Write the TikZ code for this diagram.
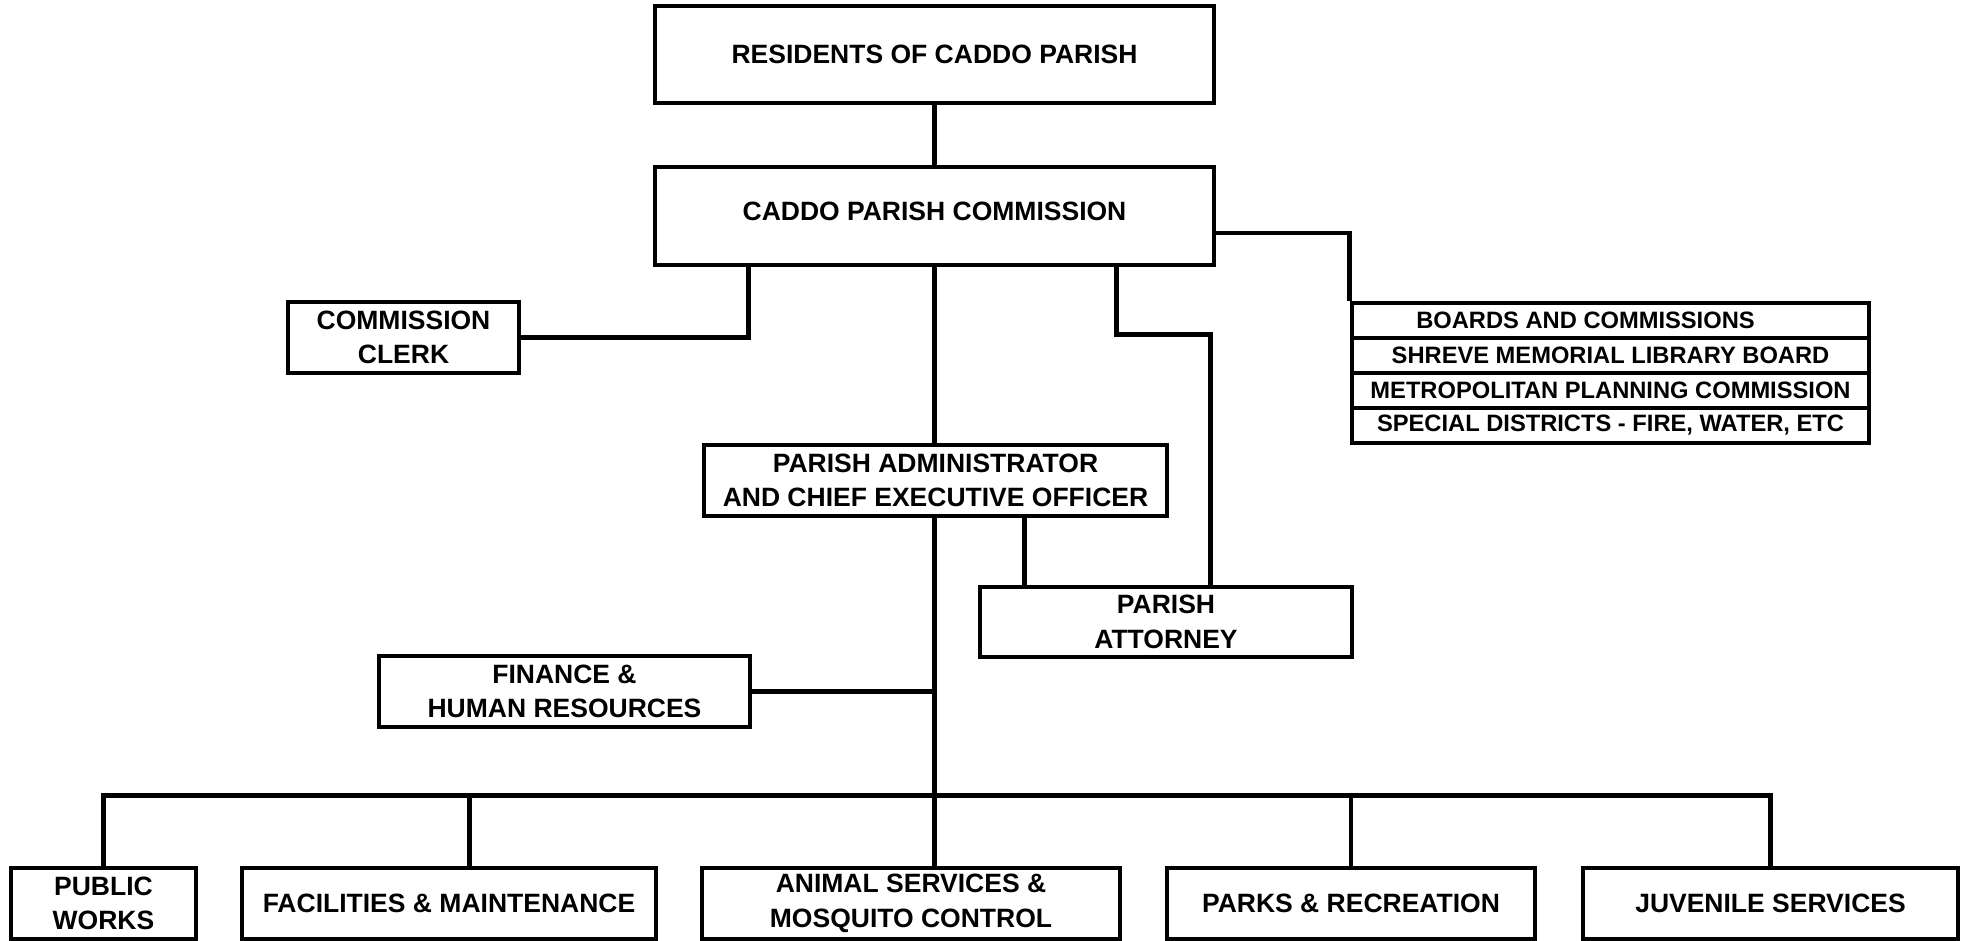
\documentclass[tikz,border=0pt]{standalone}
\usepackage{fontspec}
\setmainfont{Liberation Sans}
\usetikzlibrary{calc}
\begin{document}
\begin{tikzpicture}[x=1pt,y=-1pt,line width=4.6pt,
  box/.style={draw,line width=4.6pt,inner sep=0pt,align=center,
    font=\bfseries\fontsize{26.5}{34.5}\selectfont},
  row/.style={draw,line width=4.6pt,inner sep=0pt,minimum width=517pt,minimum height=35pt,
    font=\bfseries\fontsize{23.7}{28}\selectfont}]
\useasboundingbox (0,0) rectangle (1970,941);
% nodes
\node[box,minimum width=559pt,minimum height=97pt] (res) at (934.5,54.5) {RESIDENTS OF CADDO PARISH};
\node[box,minimum width=559pt,minimum height=98pt] (com) at (934.5,216) {\raisebox{10pt}{CADDO PARISH COMMISSION}};
\node[box,minimum width=231pt,minimum height=71pt] (clerk) at (403.5,337.5) {COMMISSION\\CLERK};
\node[row] (b1) at (1610.5,320.5) {\hspace{-50pt}BOARDS AND COMMISSIONS};
\node[row] (b2) at (1610.5,355.5) {SHREVE MEMORIAL LIBRARY BOARD};
\node[row] (b3) at (1610.5,390.5) {METROPOLITAN PLANNING COMMISSION};
\node[row] (b4) at (1610.5,425.5) {SPECIAL DISTRICTS - FIRE, WATER, ETC};
\node[box,minimum width=463pt,minimum height=71pt] (adm) at (935.5,480.5) {PARISH ADMINISTRATOR\\AND CHIEF EXECUTIVE OFFICER};
\node[box,minimum width=372pt,minimum height=70pt] (att) at (1166,622) {PARISH\\ATTORNEY};
\node[box,minimum width=371pt,minimum height=71pt] (fin) at (564.5,691.5) {FINANCE \&\\HUMAN RESOURCES};
\node[box,minimum width=185pt,minimum height=71pt] (pw) at (103.5,903.5) {PUBLIC\\WORKS};
\node[box,minimum width=414pt,minimum height=71pt] (fac) at (449,903.5) {FACILITIES \& MAINTENANCE};
\node[box,minimum width=418pt,minimum height=71pt] (ani) at (911,903.5) {ANIMAL SERVICES \&\\MOSQUITO CONTROL};
\node[box,minimum width=368pt,minimum height=71pt] (par) at (1351,903.5) {PARKS \& RECREATION};
\node[box,minimum width=375pt,minimum height=71pt] (juv) at (1770.5,903.5) {JUVENILE SERVICES};
% connectors
\draw (res.south) -- (com.north);
\draw (com.east) ++(0,17) -| (b1.north west);
\coordinate (ck) at ($(com.south west)+(96,0)$);
\draw (clerk.east) -| (ck);
\coordinate (cr) at ($(com.south west)+(464,0)$);
\coordinate (ar) at ($(att.north west)+(233,0)$);
\draw (cr) |- ($(ar)+(0,-250)$) -- (ar);
\draw (com.south) -- (com.south |- adm.north);
\coordinate (aa) at ($(adm.south west)+(323,0)$);
\draw (aa) -- (aa |- att.north);
\coordinate (bus) at ($(ani.north)+(0,-70)$);
\draw (com.south |- adm.south) -- (com.south |- ani.north);
\draw (fin.east) -- (fin.east -| com.south);
\draw (pw.north) |- (juv.north |- bus) -- (juv.north);
\coordinate (fd) at ($(fac.north west)+(230,0)$);
\draw (fd) -- (fd |- bus);
\draw (par.north) -- (par.north |- bus);
\end{tikzpicture}
\end{document}
